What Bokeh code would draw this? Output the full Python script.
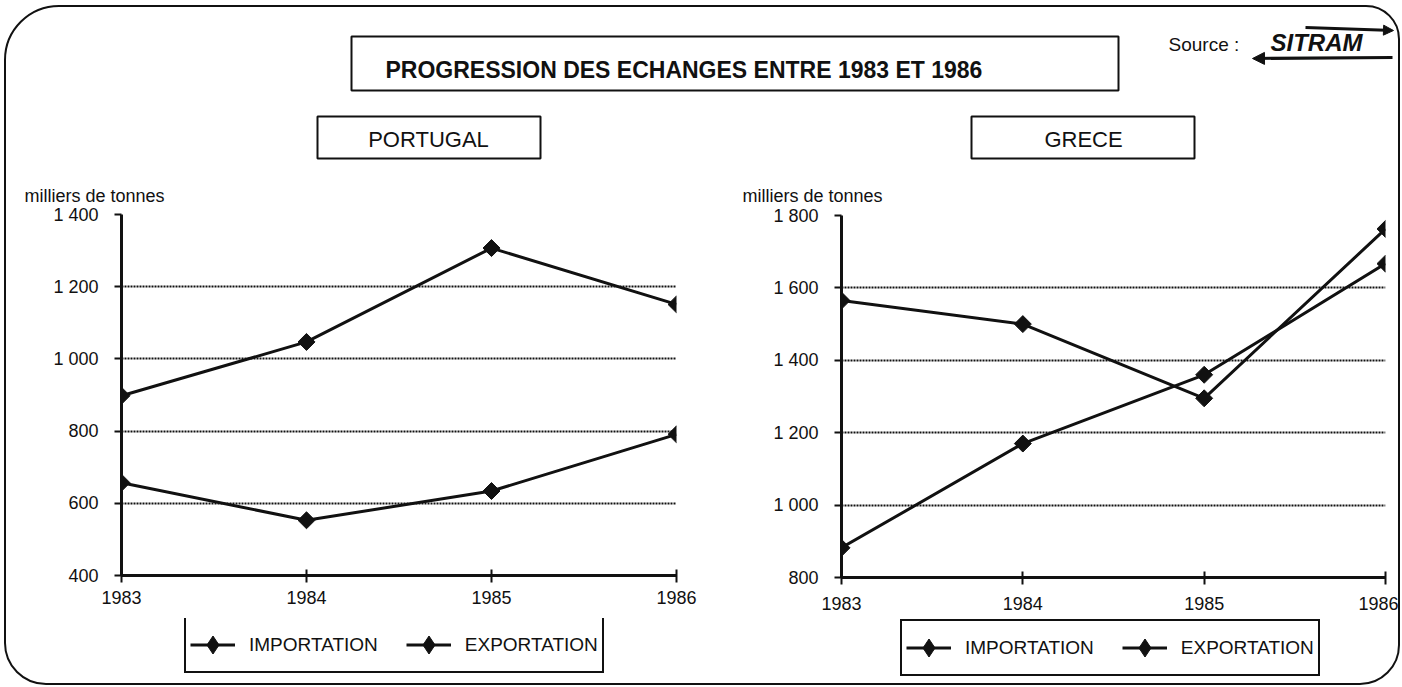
import numpy as np
from bokeh.plotting import figure
from bokeh.models import (Range1d, FixedTicker, CustomJSTickFormatter, Legend, LegendItem,
                          BoxAnnotation, Label, Arrow, NormalHead, GridBox)
from bokeh.embed import file_html
from bokeh.resources import INLINE

# ---------------- data ----------------
years = [1983, 1984, 1985, 1986]
portugal_import = [898, 1047, 1307, 1151]
portugal_export = [657, 553, 634, 791]
grece_import = [1565, 1500, 1295, 1763]
grece_export = [882, 1170, 1360, 1667]

portugal_ticks = [400, 600, 800, 1000, 1200, 1400]
grece_ticks = [800, 1000, 1200, 1400, 1600, 1800]

series_labels = ["IMPORTATION", "EXPORTATION"]
main_title = "PROGRESSION DES ECHANGES ENTRE 1983 ET 1986"
country_names = ["PORTUGAL", "GRECE"]
unit_label = "milliers de tonnes"

FONT = "Liberation Sans"
INK = "#111111"

fmt_code = """
const v = Math.round(tick);
if (v >= 1000) { return Math.floor(v / 1000) + ' ' + String(v % 1000).padStart(3, '0'); }
return String(v);
"""


def style_series(p, s, legend_glyph=False):
    ln = p.line(years, s, line_width=3, line_color=INK)
    if legend_glyph:
        mk = p.scatter(years, s, marker="diamond", size=22, fill_color=INK, line_color=INK)
    else:
        mk = p.scatter(years, s, marker="square", angle=np.pi / 4, size=12,
                       fill_color=INK, line_color=INK)
    return ln, mk


def bare_fig(**kw):
    return figure(output_backend="svg", toolbar_location=None, title=None,
                  outline_line_color=None, frame_align=False,
                  border_fill_color=None, background_fill_color=None, **kw)


def make_chart(width, height, b_left, b_top, b_right, b_bottom, yticks, s1, s2, x_standoff):
    p = bare_fig(width=width, height=height,
                 x_range=Range1d(years[0], years[-1]),
                 y_range=Range1d(yticks[0], yticks[-1]),
                 min_border_left=b_left, min_border_right=b_right,
                 min_border_top=b_top, min_border_bottom=b_bottom)

    xa = p.xaxis[0]
    xa.ticker = FixedTicker(ticks=years)
    xa.axis_line_width = 3
    xa.axis_line_color = INK
    xa.major_tick_in = 6
    xa.major_tick_out = 7
    xa.major_tick_line_width = 2
    xa.major_tick_line_color = INK
    xa.minor_tick_line_color = None
    xa.major_label_standoff = x_standoff
    xa.major_label_text_font = FONT
    xa.major_label_text_font_size = "18px"
    xa.major_label_text_color = INK

    ya = p.yaxis[0]
    ya.ticker = FixedTicker(ticks=yticks)
    ya.formatter = CustomJSTickFormatter(code=fmt_code)
    ya.axis_line_width = 3
    ya.axis_line_color = INK
    ya.major_tick_in = 0
    ya.major_tick_out = 7
    ya.major_tick_line_width = 2
    ya.major_tick_line_color = INK
    ya.minor_tick_line_color = None
    ya.major_label_standoff = 16
    ya.major_label_text_font = FONT
    ya.major_label_text_font_size = "18px"
    ya.major_label_text_color = INK

    p.xgrid.visible = False
    p.ygrid.grid_line_color = INK
    p.ygrid.grid_line_width = 2
    p.ygrid.grid_line_dash = "2 1"

    style_series(p, s1)
    style_series(p, s2)
    return p


# content origin on the page: (6, 7); content size 1392 x 676
left_p = make_chart(714, 414, 115, 10, 44, 43, portugal_ticks,
                    portugal_import, portugal_export, 8)
right_p = make_chart(678, 414, 121, 11, 13, 41, grece_ticks,
                     grece_import, grece_export, 12)

# ---------------- header strip ----------------
top = bare_fig(width=1392, height=197, x_range=Range1d(6, 1398), y_range=Range1d(204, 7),
               min_border=0, x_axis_location=None, y_axis_location=None)
top.grid.visible = False

top.add_layout(BoxAnnotation(left=351, right=1118, top=36, bottom=90, fill_alpha=0,
                             line_color=INK, line_width=2, line_alpha=1))
top.add_layout(Label(x=385, y=69, text=main_title, text_font=FONT, text_font_size="23px",
                     text_font_style="bold", text_baseline="middle", text_align="left",
                     text_color=INK))

for (x0, x1, cx), name in zip([(317, 540, 428), (971, 1194, 1083)], country_names):
    top.add_layout(BoxAnnotation(left=x0, right=x1, top=116, bottom=158, fill_alpha=0,
                                 line_color=INK, line_width=2, line_alpha=1))
    top.add_layout(Label(x=cx, y=139, text=name, text_font=FONT, text_font_size="22px",
                         text_baseline="middle", text_align="center", text_color=INK))

for ux in [24, 742]:
    top.add_layout(Label(x=ux, y=195, text=unit_label, text_font=FONT, text_font_size="18px",
                         text_baseline="middle", text_align="left", text_color=INK))

top.add_layout(Label(x=1168, y=44, text="Source :", text_font=FONT, text_font_size="19px",
                     text_baseline="middle", text_align="left", text_color=INK))
top.add_layout(Label(x=1270, y=42, text="SITRAM", text_font=FONT, text_font_size="24px",
                     text_font_style="bold italic", text_baseline="middle", text_align="left",
                     text_color=INK))
top.add_layout(Arrow(end=NormalHead(size=10, fill_color=INK, line_color=INK),
                     x_start=1305, y_start=27, x_end=1393, y_end=30,
                     line_width=3, line_color=INK))
top.add_layout(Arrow(end=NormalHead(size=12, fill_color=INK, line_color=INK),
                     x_start=1392, y_start=57, x_end=1252, y_end=58,
                     line_width=3, line_color=INK))

# ---------------- legend strip ----------------
strip = bare_fig(width=1392, height=65, x_range=Range1d(0, 1), y_range=Range1d(0, 1),
                 min_border=0, x_axis_location=None, y_axis_location=None)
strip.grid.visible = False

for (s1, s2), loc in [((portugal_import, portugal_export), (178, 10)),
                      ((grece_import, grece_export), (894, 7))]:
    items = []
    for lab, s in zip(series_labels, [s1, s2]):
        ln, mk = style_series(strip, s, legend_glyph=True)
        items.append(LegendItem(label=lab, renderers=[ln, mk]))
    strip.add_layout(Legend(items=items, orientation="horizontal", location=loc,
                            border_line_color=INK, border_line_width=2, border_line_alpha=1,
                            background_fill_color="white", background_fill_alpha=1,
                            padding=4, spacing=28, glyph_width=45, glyph_height=45,
                            label_standoff=14, label_text_font=FONT,
                            label_text_font_size="19px", label_text_color=INK,
                            margin=0))

page = GridBox(children=[(top, 0, 0, 1, 2), (left_p, 1, 0), (right_p, 1, 1), (strip, 2, 0, 1, 2)],
               styles={"border": "2px solid #111111",
                       "border-radius": "55px 34px 40px 42px",
                       "margin": "5px 0px 0px 4px"})

open("out.html", "w").write(file_html(page, INLINE))
